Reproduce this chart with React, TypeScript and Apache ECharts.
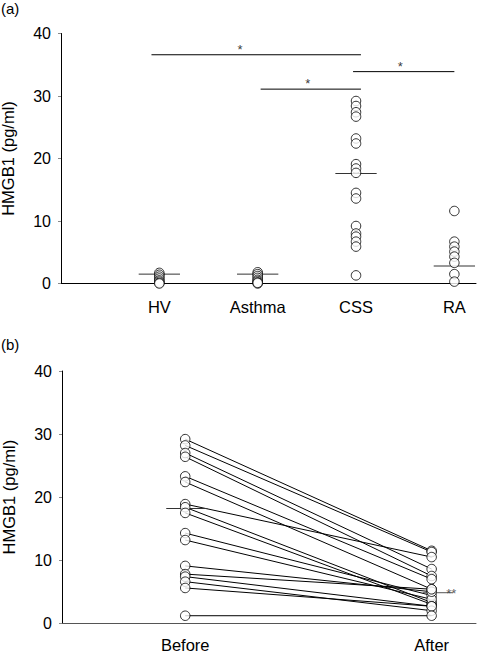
import React, { useEffect, useRef } from "react";
import * as echarts from "echarts";

// Panel (a)
const groups = ["HV", "Asthma", "CSS", "RA"];
const hvValues = [1.7, 1.4, 1.1, 0.8, 0.5, 0.3, 0.1, 0.0];
const asthmaValues = [1.8, 1.5, 1.2, 0.9, 0.6, 0.4, 0.2, 0.0, 0.1];
const cssValues = [29.2, 28.4, 27.4, 26.7, 23.2, 22.4, 19.1, 18.4, 17.7, 14.5, 13.6, 9.2, 8.0, 7.5, 6.7, 5.9, 1.3];
const raValues = [11.6, 6.7, 5.9, 5.1, 4.3, 3.3, 1.5, 0.3];
const groupMedians = [1.5, 1.5, 17.6, 2.8];
// significance bars: [fromGroupPos, toGroupPos, level, starPos]
const sigFrom = [0.92, 2.03, 2.97];
const sigTo = [3.05, 3.05, 4.0];
const sigLevel = [36.6, 31.1, 33.9];
const sigStarPos = [1.82, 2.51, 3.45];

// Panel (b)
const periods = ["Before", "After"];
const beforeValues = [29.2, 28.2, 27.0, 26.4, 23.3, 22.4, 18.9, 18.4, 17.5, 14.3, 13.2, 9.1, 7.8, 7.4, 6.6, 5.6, 1.2];
const afterValues = [11.5, 11.3, 8.6, 7.5, 7.0, 5.4, 10.5, 3.3, 3.0, 4.4, 3.8, 5.0, 5.4, 2.7, 2.0, 2.7, 1.2];
const periodMedians = [18.2, 4.85];

const yTicks = [0, 10, 20, 30, 40];

const FONT = "'Liberation Sans', Arial, Helvetica, sans-serif";

export default function App() {
  const ref = useRef<HTMLDivElement>(null);
  useEffect(() => {
    if (!ref.current) return;
    const chart = echarts.init(ref.current, null, { renderer: "svg" });

    const groupData = [hvValues, asthmaValues, cssValues, raValues];
    const circleStyle = { color: "#fff", borderColor: "#000", borderWidth: 1 };

    const series: any[] = [];

    // panel a: significance bars
    sigFrom.forEach((x1, i) => {
      series.push({
        type: "line",
        xAxisIndex: 0,
        yAxisIndex: 0,
        data: [[x1, sigLevel[i]], [sigTo[i], sigLevel[i]]],
        showSymbol: false,
        symbol: "none",
        lineStyle: { color: "#000", width: 1 },
        z: 2,
      });
      series.push({
        type: "scatter",
        xAxisIndex: 0,
        yAxisIndex: 0,
        data: [[sigStarPos[i], sigLevel[i]]],
        symbolSize: 0,
        itemStyle: { color: "#000" },
        label: {
          show: true,
          formatter: "*",
          position: "top",
          distance: -1,
          color: "#000",
          fontSize: 13,
          fontFamily: FONT,
        },
        z: 3,
      });
    });

    // panel a: medians
    groupMedians.forEach((m, i) => {
      const c = i + 1;
      series.push({
        type: "line",
        xAxisIndex: 0,
        yAxisIndex: 0,
        data: [[c - 0.21, m], [c + 0.21, m]],
        symbol: "none",
        lineStyle: { color: "#333", width: 1 },
        z: 2,
      });
    });

    // panel a: points
    groupData.forEach((vals, i) => {
      series.push({
        type: "scatter",
        xAxisIndex: 0,
        yAxisIndex: 0,
        data: vals.map((v) => [i + 1, v]),
        symbol: "circle",
        symbolSize: 9.5,
        itemStyle: circleStyle,
        z: 3,
      });
    });

    // panel b: paired lines
    beforeValues.forEach((b, i) => {
      series.push({
        type: "line",
        xAxisIndex: 1,
        yAxisIndex: 1,
        data: [[1, b], [2, afterValues[i]]],
        symbol: "none",
        lineStyle: { color: "#000", width: 1 },
        z: 2,
      });
    });

    // panel b: medians
    series.push({
      type: "line",
      xAxisIndex: 1,
      yAxisIndex: 1,
      data: [[1 - 0.077, periodMedians[0]], [1 + 0.09, periodMedians[0]]],
      symbol: "none",
      lineStyle: { color: "#333", width: 1 },
      z: 2,
    });
    series.push({
      type: "line",
      xAxisIndex: 1,
      yAxisIndex: 1,
      data: [[2 - 0.036, periodMedians[1]], [2 + 0.085, periodMedians[1]]],
      symbol: "none",
      lineStyle: { color: "#555", width: 1 },
      z: 2,
    });
    series.push({
      type: "scatter",
      xAxisIndex: 1,
      yAxisIndex: 1,
      data: [[2.08, periodMedians[1]]],
      symbolSize: 0,
      itemStyle: { color: "#333" },
      label: {
        show: true,
        formatter: "**",
        position: "top",
        distance: -7,
        color: "#333",
        fontSize: 13,
        fontFamily: FONT,
      },
      z: 3,
    });

    // panel b: points
    series.push({
      type: "scatter",
      xAxisIndex: 1,
      yAxisIndex: 1,
      data: beforeValues.map((v) => [1, v]).concat(afterValues.map((v) => [2, v])),
      symbol: "circle",
      symbolSize: 9.5,
      itemStyle: circleStyle,
      z: 4,
    });

    const yAxisCommon = {
      type: "value",
      min: 0,
      max: 40,
      interval: 10,
      name: "HMGB1 (pg/ml)",
      nameLocation: "middle",
      nameGap: 45,
      nameTextStyle: { fontSize: 16.5, color: "#000", fontFamily: FONT },
      axisLine: { show: true, lineStyle: { color: "#000", width: 1 } },
      axisTick: { show: true, length: 3, lineStyle: { color: "#888" } },
      axisLabel: {
        fontSize: 16,
        color: "#000",
        fontFamily: FONT,
        margin: 10,
        formatter: (v: number) => (yTicks.includes(v) ? String(v) : ""),
      },
      splitLine: { show: false },
    };

    chart.setOption({
      animation: false,
      backgroundColor: "#fff",
      grid: [
        { left: 61, top: 33.5, width: 415, height: 250, outerBoundsMode: "none", containLabel: false },
        { left: 62, top: 371, width: 414, height: 252.3, outerBoundsMode: "none", containLabel: false },
      ],
      xAxis: [
        {
          type: "value",
          gridIndex: 0,
          min: 0,
          max: 4.22,
          interval: 1,
          axisLine: { show: true, onZero: false, lineStyle: { color: "#000", width: 1 } },
          axisTick: { show: false },
          splitLine: { show: false },
          axisLabel: {
            fontSize: 16.5,
            color: "#000",
            fontFamily: FONT,
            margin: 15,
            showMaxLabel: false,
            formatter: (v: number) => (v >= 1 && v <= 4 && Number.isInteger(v) ? groups[v - 1] : ""),
          },
        },
        {
          type: "value",
          gridIndex: 1,
          min: 0.5,
          max: 2.18,
          interval: 0.5,
          axisLine: { show: true, onZero: false, lineStyle: { color: "#555", width: 1 } },
          axisTick: { show: false },
          splitLine: { show: false },
          axisLabel: {
            fontSize: 16.5,
            color: "#000",
            fontFamily: FONT,
            margin: 13,
            showMaxLabel: false,
            formatter: (v: number) => (v === 1 ? periods[0] : v === 2 ? periods[1] : ""),
          },
        },
      ],
      yAxis: [
        { ...yAxisCommon, gridIndex: 0 },
        { ...yAxisCommon, gridIndex: 1 },
      ],
      graphic: [
        { type: "text", left: 1, top: 1, style: { text: "(a)", fontSize: 15, fill: "#000", fontFamily: FONT } },
        { type: "text", left: 1, top: 337, style: { text: "(b)", fontSize: 15, fill: "#000", fontFamily: FONT } },
      ],
      series,
    });

    return () => chart.dispose();
  }, []);

  return (
    <div
      ref={ref}
      style={{ position: "fixed", left: 0, top: 0, width: 477, height: 656, background: "#fff" }}
    />
  );
}
